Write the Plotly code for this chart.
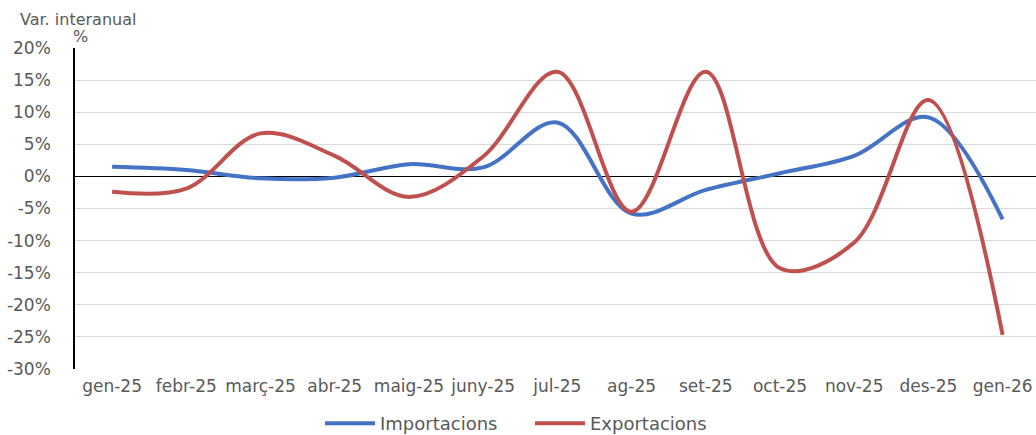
import plotly.graph_objects as go

months = ["gen-25", "febr-25", "març-25", "abr-25", "maig-25", "juny-25", "jul-25",
          "ag-25", "set-25", "oct-25", "nov-25", "des-25", "gen-26"]
importacions = [1.5, 1.0, -0.3, -0.2, 1.9, 1.4, 8.4, -5.8, -2.1, 0.5, 3.2, 9.2, -6.7]
exportacions = [-2.4, -1.9, 6.7, 3.2, -3.2, 3.1, 16.3, -5.5, 16.3, -14.3, -10.3, 11.9, -24.7]
y_ticks = [20, 15, 10, 5, 0, -5, -10, -15, -20, -25, -30]
y_ticktext = ["20%", "15%", "10%", "5%", "0%", "-5%", "-10%", "-15%", "-20%", "-25%", "-30%"]

fig = go.Figure()
fig.add_trace(go.Scatter(x=months, y=importacions, name="Importacions", mode="lines",
                         line=dict(color="#4472C4", width=4, shape="spline", smoothing=1.0)))
fig.add_trace(go.Scatter(x=months, y=exportacions, name="Exportacions", mode="lines",
                         line=dict(color="#C0504D", width=4, shape="spline", smoothing=1.0)))

font_family = "DejaVu Sans, Liberation Sans, Arial, sans-serif"
W = 961.0
fig.update_layout(
    width=1036, height=435,
    margin=dict(l=75, r=0, t=48, b=66, autoexpand=False),
    paper_bgcolor="white", plot_bgcolor="white",
    font=dict(family=font_family, color="#595959", size=15),
    showlegend=True,
    legend=dict(orientation="h", x=(530 - 75) / W, xanchor="center", y=-0.17, yanchor="middle",
                font=dict(size=18, color="#595959"), tracegroupgap=0,
                itemwidth=50, entrywidth=145, entrywidthmode="pixels",
                bgcolor="rgba(0,0,0,0)"),
    xaxis=dict(type="category", range=[-0.5, 12.45], showgrid=False, showline=False,
               zeroline=False, ticks="", tickfont=dict(size=17, color="#595959"),
               ticklabelstandoff=5, automargin=False),
    yaxis=dict(range=[-30, 20], tickvals=y_ticks, ticktext=y_ticktext,
               showgrid=True, gridcolor="#d9d9d9", gridwidth=1,
               zeroline=True, zerolinecolor="#000000", zerolinewidth=1,
               showline=True, linecolor="#000000", linewidth=1.5,
               ticks="", tickfont=dict(size=17, color="#595959"), ticklabelstandoff=19,
               automargin=False),
    annotations=[
        dict(text="Var. interanual", xref="paper", yref="paper", x=(18 - 75) / W, y=1,
             xanchor="left", yanchor="bottom", yshift=17, showarrow=False,
             font=dict(size=16, color="#595959")),
        dict(text="%", xref="paper", yref="paper", x=(80 - 75) / W, y=1,
             xanchor="center", yanchor="bottom", yshift=0, showarrow=False,
             font=dict(size=16, color="#595959")),
    ],
)

fig.write_html("out.html", config={"displayModeBar": False},
               post_script="document.body.style.margin='0';")
